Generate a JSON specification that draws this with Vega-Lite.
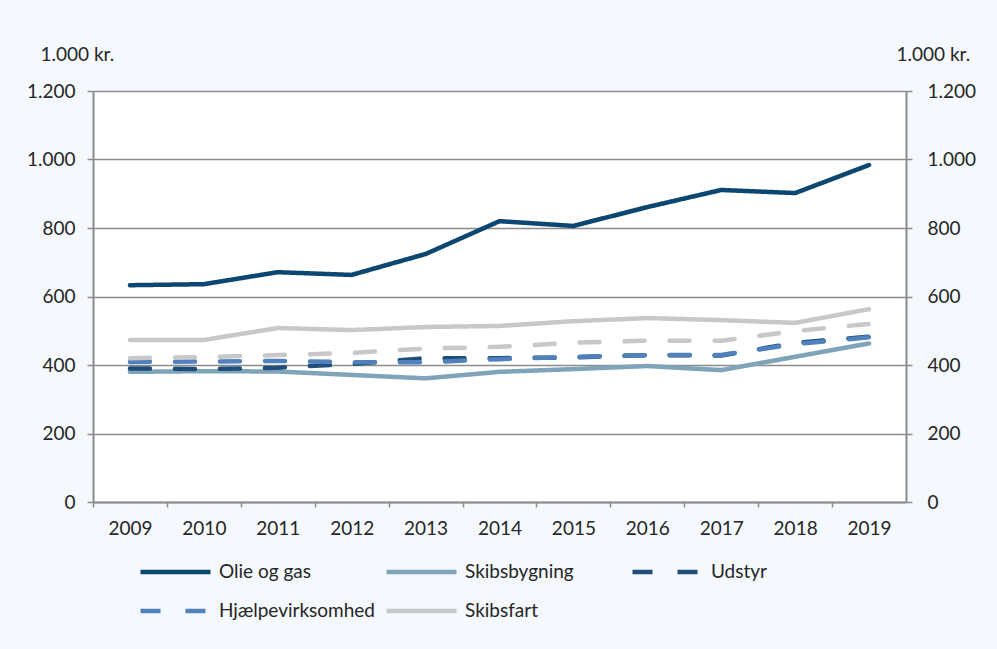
{
  "$schema": "https://vega.github.io/schema/vega-lite/v6.json",
  "width": 813,
  "height": 411,
  "autosize": {"type": "none"},
  "padding": {"left": 93, "top": 91, "right": 91, "bottom": 147},
  "background": "#F5F9FD",
  "config": {
    "view": {"fill": "white", "stroke": null},
    "font": "Lato",
    "axis": {
      "domainColor": "#8C8C8C",
      "domainWidth": 2,
      "tickColor": "#8C8C8C",
      "tickWidth": 1.5,
      "gridColor": "#8C8C8C",
      "gridWidth": 1.5,
      "labelFontSize": 19,
      "labelColor": "#262626",
      "titleFontSize": 19,
      "titleFontWeight": "normal",
      "titleColor": "#262626"
    }
  },
  "data": {
    "values": [
      {"year": "2009", "series": "Olie og gas", "value": 633},
      {"year": "2010", "series": "Olie og gas", "value": 636},
      {"year": "2011", "series": "Olie og gas", "value": 671},
      {"year": "2012", "series": "Olie og gas", "value": 663},
      {"year": "2013", "series": "Olie og gas", "value": 724},
      {"year": "2014", "series": "Olie og gas", "value": 820},
      {"year": "2015", "series": "Olie og gas", "value": 806},
      {"year": "2016", "series": "Olie og gas", "value": 861},
      {"year": "2017", "series": "Olie og gas", "value": 911},
      {"year": "2018", "series": "Olie og gas", "value": 902},
      {"year": "2019", "series": "Olie og gas", "value": 984},
      {"year": "2009", "series": "Skibsbygning", "value": 380},
      {"year": "2010", "series": "Skibsbygning", "value": 382},
      {"year": "2011", "series": "Skibsbygning", "value": 381},
      {"year": "2012", "series": "Skibsbygning", "value": 371},
      {"year": "2013", "series": "Skibsbygning", "value": 361},
      {"year": "2014", "series": "Skibsbygning", "value": 380},
      {"year": "2015", "series": "Skibsbygning", "value": 388},
      {"year": "2016", "series": "Skibsbygning", "value": 397},
      {"year": "2017", "series": "Skibsbygning", "value": 385},
      {"year": "2018", "series": "Skibsbygning", "value": 424},
      {"year": "2019", "series": "Skibsbygning", "value": 463},
      {"year": "2009", "series": "Udstyr", "value": 390},
      {"year": "2010", "series": "Udstyr", "value": 388},
      {"year": "2011", "series": "Udstyr", "value": 392},
      {"year": "2012", "series": "Udstyr", "value": 403},
      {"year": "2013", "series": "Udstyr", "value": 420},
      {"year": "2014", "series": "Udstyr", "value": 420},
      {"year": "2015", "series": "Udstyr", "value": 422},
      {"year": "2016", "series": "Udstyr", "value": 429},
      {"year": "2017", "series": "Udstyr", "value": 428},
      {"year": "2018", "series": "Udstyr", "value": 464},
      {"year": "2019", "series": "Udstyr", "value": 483},
      {"year": "2009", "series": "Hjælpevirksomhed", "value": 409},
      {"year": "2010", "series": "Hjælpevirksomhed", "value": 410},
      {"year": "2011", "series": "Hjælpevirksomhed", "value": 412},
      {"year": "2012", "series": "Hjælpevirksomhed", "value": 408},
      {"year": "2013", "series": "Hjælpevirksomhed", "value": 408},
      {"year": "2014", "series": "Hjælpevirksomhed", "value": 417},
      {"year": "2015", "series": "Hjælpevirksomhed", "value": 424},
      {"year": "2016", "series": "Hjælpevirksomhed", "value": 429},
      {"year": "2017", "series": "Hjælpevirksomhed", "value": 429},
      {"year": "2018", "series": "Hjælpevirksomhed", "value": 461},
      {"year": "2019", "series": "Hjælpevirksomhed", "value": 481},
      {"year": "2009", "series": "Skibsfart", "value": 473},
      {"year": "2010", "series": "Skibsfart", "value": 473},
      {"year": "2011", "series": "Skibsfart", "value": 508},
      {"year": "2012", "series": "Skibsfart", "value": 502},
      {"year": "2013", "series": "Skibsfart", "value": 511},
      {"year": "2014", "series": "Skibsfart", "value": 514},
      {"year": "2015", "series": "Skibsfart", "value": 528},
      {"year": "2016", "series": "Skibsfart", "value": 537},
      {"year": "2017", "series": "Skibsfart", "value": 531},
      {"year": "2018", "series": "Skibsfart", "value": 523},
      {"year": "2019", "series": "Skibsfart", "value": 563},
      {"year": "2009", "series": "Gennemsnit", "value": 420},
      {"year": "2010", "series": "Gennemsnit", "value": 423},
      {"year": "2011", "series": "Gennemsnit", "value": 429},
      {"year": "2012", "series": "Gennemsnit", "value": 435},
      {"year": "2013", "series": "Gennemsnit", "value": 448},
      {"year": "2014", "series": "Gennemsnit", "value": 453},
      {"year": "2015", "series": "Gennemsnit", "value": 465},
      {"year": "2016", "series": "Gennemsnit", "value": 471},
      {"year": "2017", "series": "Gennemsnit", "value": 471},
      {"year": "2018", "series": "Gennemsnit", "value": 499},
      {"year": "2019", "series": "Gennemsnit", "value": 520}
    ]
  },
  "layer": [
    {
      "transform": [{"filter": "datum.series != 'Gennemsnit'"}],
      "mark": {"type": "line", "strokeWidth": 4.5, "strokeCap": "round", "strokeJoin": "round"},
      "encoding": {
        "x": {
          "field": "year", "type": "ordinal",
          "scale": {"type": "point", "padding": 0.5},
          "axis": {"title": null, "labelAngle": 0, "tickOffset": -36.95, "labelOffset": 36.95, "tickSize": 5, "labelPadding": 12, "grid": false}
        },
        "y": {
          "field": "value", "type": "quantitative",
          "scale": {"domain": [0, 1200]},
          "axis": {
            "orient": "left", "values": [0, 200, 400, 600, 800, 1000, 1200],
            "labelExpr": "replace(format(datum.value, ','), ',', '.')",
            "grid": true, "tickSize": 6, "labelPadding": 12,
            "title": "1.000 kr.", "titleAngle": 0, "titleX": -53, "titleY": -37,
            "titleAlign": "left", "titleBaseline": "middle"
          }
        },
        "color": {
          "field": "series", "type": "nominal",
          "scale": {
            "domain": ["Olie og gas", "Skibsbygning", "Udstyr", "Hjælpevirksomhed", "Skibsfart"],
            "range": ["#0B4770", "#7FA3B8", "#1F4E79", "#4F81BD", "#C8C8C8"]
          },
          "legend": {
            "title": null, "orient": "none", "direction": "horizontal", "legendX": 45, "legendY": 471,
            "columns": 3, "gridAlign": "all", "columnPadding": 8, "rowPadding": 19,
            "clipHeight": 20, "symbolType": "stroke", "symbolSize": 4900, "symbolStrokeWidth": 4.5,
            "labelOffset": 6, "labelFontSize": 19, "labelColor": "#262626", "padding": 0
          }
        },
        "strokeDash": {
          "field": "series", "type": "nominal",
          "scale": {
            "domain": ["Olie og gas", "Skibsbygning", "Udstyr", "Hjælpevirksomhed", "Skibsfart"],
            "range": [[1, 0], [1, 0], [20, 25], [20, 25], [1, 0]]
          },
          "legend": {
            "title": null, "orient": "none", "direction": "horizontal", "legendX": 45, "legendY": 471,
            "columns": 3, "gridAlign": "all", "columnPadding": 8, "rowPadding": 19,
            "clipHeight": 20, "symbolType": "stroke", "symbolSize": 4900, "symbolStrokeWidth": 4.5,
            "labelOffset": 6, "labelFontSize": 19, "labelColor": "#262626", "padding": 0
          }
        }
      }
    },
    {
      "transform": [{"filter": "datum.series == 'Gennemsnit'"}],
      "mark": {"type": "line", "color": "#C8C8C8", "strokeWidth": 4.5, "strokeCap": "round", "strokeDash": [20, 25]},
      "encoding": {
        "x": {"field": "year", "type": "ordinal", "scale": {"type": "point", "padding": 0.5}},
        "y": {
          "field": "value", "type": "quantitative",
          "scale": {"domain": [0, 1200]},
          "axis": {
            "orient": "right", "values": [0, 200, 400, 600, 800, 1000, 1200],
            "labelExpr": "replace(format(datum.value, ','), ',', '.')",
            "grid": false, "tickSize": 6, "labelPadding": 15,
            "title": "1.000 kr.", "titleAngle": 0, "titleX": -10, "titleY": -37,
            "titleAlign": "left", "titleBaseline": "middle"
          }
        }
      }
    }
  ],
  "resolve": {"axis": {"y": "independent"}}
}
